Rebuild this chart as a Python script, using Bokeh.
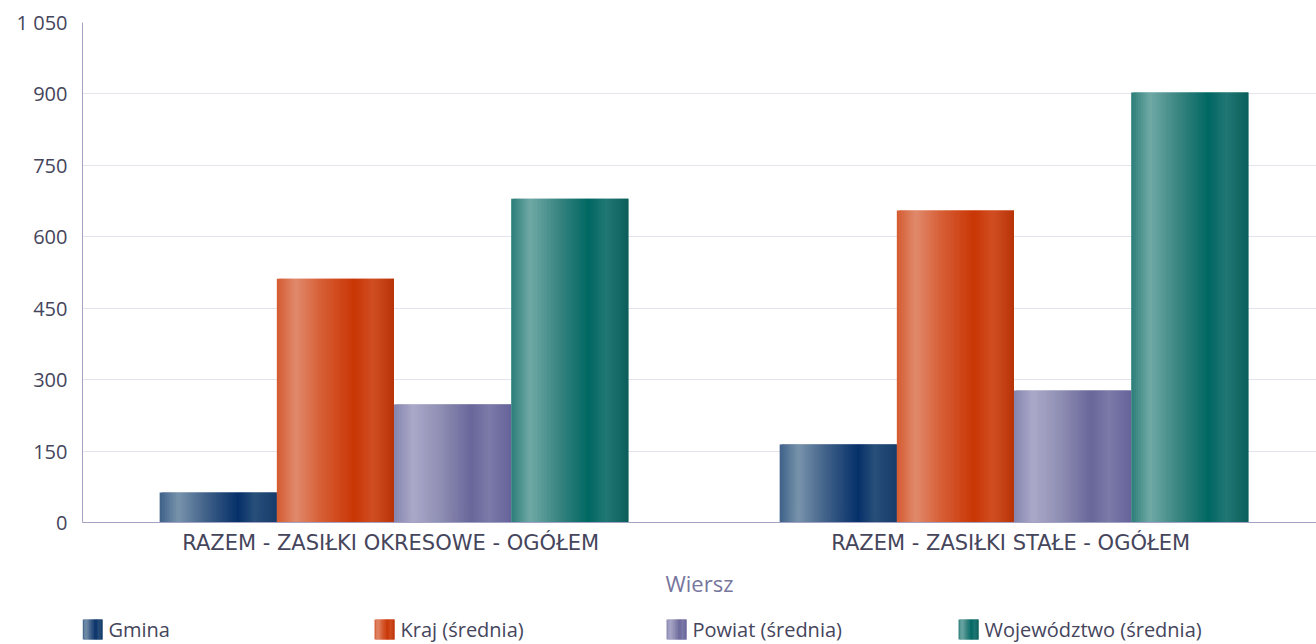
from bokeh.plotting import figure
from bokeh.models import Range1d, FixedTicker, ColumnDataSource
from bokeh.layouts import column
from bokeh.core.properties import value
from bokeh.embed import file_html
from bokeh.resources import INLINE

# ---------------- data ----------------
categories = ["RAZEM -  ZASIŁKI OKRESOWE - OGÓŁEM", "RAZEM -  ZASIŁKI STAŁE - OGÓŁEM"]
series_names = ["Gmina", "Kraj (średnia)", "Powiat (średnia)", "Województwo (średnia)"]
gmina = [63, 164]
kraj = [512, 655]
powiat = [248, 277]
wojewodztwo = [680, 903]
y_ticks = [0, 150, 300, 450, 600, 750, 900, 1050]
y_tick_labels = ["0", "150", "300", "450", "600", "750", "900", "1 050"]
x_axis_title = "Wiersz"

# ---------------- styles ----------------
FONT = "Open Sans"
XFONT = "DejaVu Sans"
TEXT_COLOR = "#45455c"
gradients = [
    [(0, "#3e6189"), (0.16, "#7893ab"), (0.40, "#3f6088"), (0.67, "#06306a"), (0.81, "#284f79"), (1, "#163c6b")],
    [(0, "#d45a30"), (0.16, "#e08a6c"), (0.38, "#d75e35"), (0.66, "#c93605"), (0.82, "#d04e22"), (1, "#b93208")],
    [(0, "#8584ae"), (0.16, "#aaa9c9"), (0.38, "#9190b5"), (0.66, "#69679a"), (0.81, "#7c7aa8"), (1, "#65639a")],
    [(0, "#2c7d79"), (0.16, "#6fa9a6"), (0.38, "#3f8884"), (0.66, "#006762"), (0.81, "#217774"), (1, "#0b5f5a")],
]


def hex2rgb(h):
    h = h.lstrip("#")
    return tuple(int(h[i:i + 2], 16) for i in (0, 2, 4))


def grad_color(stops, t):
    for (p0, c0), (p1, c1) in zip(stops[:-1], stops[1:]):
        if p0 <= t <= p1:
            f = (t - p0) / (p1 - p0) if p1 > p0 else 0
            a, b = hex2rgb(c0), hex2rgb(c1)
            return "#%02x%02x%02x" % tuple(int(round(a[i] + (b[i] - a[i]) * f)) for i in range(3))
    return stops[-1][1]


# ---------------- layout constants ----------------
FIG_W = 1316
MAIN_H = 600
LEG_H = 44
FRAME_LEFT = 82
PITCH_PX = 620.0
x_start = 0.5 - 311.5 / PITCH_PX
x_end = x_start + (FIG_W - FRAME_LEFT) / PITCH_PX

p = figure(width=FIG_W, height=MAIN_H,
           x_range=Range1d(x_start, x_end), y_range=Range1d(0, 1050),
           output_backend="svg", toolbar_location=None,
           min_border_left=FRAME_LEFT, min_border_right=0,
           min_border_top=22, min_border_bottom=MAIN_H - 522)
p.outline_line_color = None
p.background_fill_color = "white"
p.border_fill_color = "white"

# bars with a horizontal gradient made of thin overlapping stripes
all_values = [gmina, kraj, powiat, wojewodztwo]
n_series = len(all_values)
bar_w = 0.189
N_STRIPES = 50
sw = bar_w / N_STRIPES
for s, vals in enumerate(all_values):
    offset = (s - (n_series - 1) / 2.0) * bar_w
    L, R, T, C = [], [], [], []
    for ci, v in enumerate(vals):
        left_edge = ci + 0.5 + offset - bar_w / 2
        for k in range(N_STRIPES):
            t = (k + 0.5) / N_STRIPES
            L.append(left_edge + k * sw)
            R.append(left_edge + min((k + 2) * sw, bar_w))
            T.append(v)
            C.append(grad_color(gradients[s], t))
    src = ColumnDataSource(dict(left=L, right=R, top=T, color=C))
    p.quad(left="left", right="right", top="top", bottom=0,
           fill_color="color", line_color=None, source=src)

# axes
p.xgrid.visible = False
p.ygrid.grid_line_color = "#e5e4ee"
p.ygrid.grid_line_width = 1

p.yaxis.ticker = FixedTicker(ticks=y_ticks)
p.yaxis.major_label_overrides = {t: l for t, l in zip(y_ticks, y_tick_labels)}
p.xaxis.ticker = FixedTicker(ticks=[i + 0.5 for i in range(len(categories))])
p.xaxis.major_label_overrides = {i + 0.5: c for i, c in enumerate(categories)}

for ax in (p.xaxis, p.yaxis):
    ax.major_tick_line_color = None
    ax.minor_tick_line_color = None
    ax.major_tick_out = 0
    ax.major_tick_in = 0
    ax.axis_line_color = "#a3a2c3"
    ax.major_label_text_color = TEXT_COLOR

p.yaxis.major_label_text_font = FONT
p.yaxis.major_label_text_font_size = "20px"
p.yaxis.major_label_standoff = 15
p.xaxis.major_label_text_font = XFONT
p.xaxis.major_label_text_font_size = "21px"
p.xaxis.major_label_standoff = 8
p.xaxis.axis_label = x_axis_title
p.xaxis.axis_label_text_font = FONT
p.xaxis.axis_label_text_font_size = "22px"
p.xaxis.axis_label_text_font_style = "normal"
p.xaxis.axis_label_text_color = "#77769d"
p.xaxis.axis_label_standoff = 10

# ---------------- legend figure (frame aligned with the main frame) ----------------
lg = figure(width=FIG_W, height=LEG_H, x_range=Range1d(FRAME_LEFT, FIG_W), y_range=Range1d(LEG_H, 0),
            output_backend="svg", toolbar_location=None,
            x_axis_type=None, y_axis_type=None,
            min_border_left=FRAME_LEFT, min_border_right=0, min_border_top=0, min_border_bottom=0)
lg.outline_line_color = None
lg.xgrid.visible = False
lg.ygrid.visible = False

ITEM_PITCH = 292
SQ = 20
LEG_STRIPES = 12
SQ_TOP = 19
for s, name in enumerate(series_names):
    x0 = FRAME_LEFT + s * ITEM_PITCH
    lefts, rights, cols = [], [], []
    for k in range(LEG_STRIPES):
        t = (k + 0.5) / LEG_STRIPES
        lefts.append(x0 + k * SQ / LEG_STRIPES)
        rights.append(x0 + min((k + 2) * SQ / LEG_STRIPES, SQ))
        cols.append(grad_color(gradients[s], t))
    lg.quad(left=lefts, right=rights, top=[SQ_TOP] * LEG_STRIPES, bottom=[SQ_TOP + SQ] * LEG_STRIPES,
            fill_color=cols, line_color=None)
    lg.text(x=[x0 + SQ + 6], y=[SQ_TOP + SQ / 2], text=[name], text_font=value(FONT),
            text_font_size="20px", text_color=TEXT_COLOR,
            text_align="left", text_baseline="middle")

layout = column(p, lg, spacing=0)
open("out.html", "w").write(file_html(layout, INLINE))
